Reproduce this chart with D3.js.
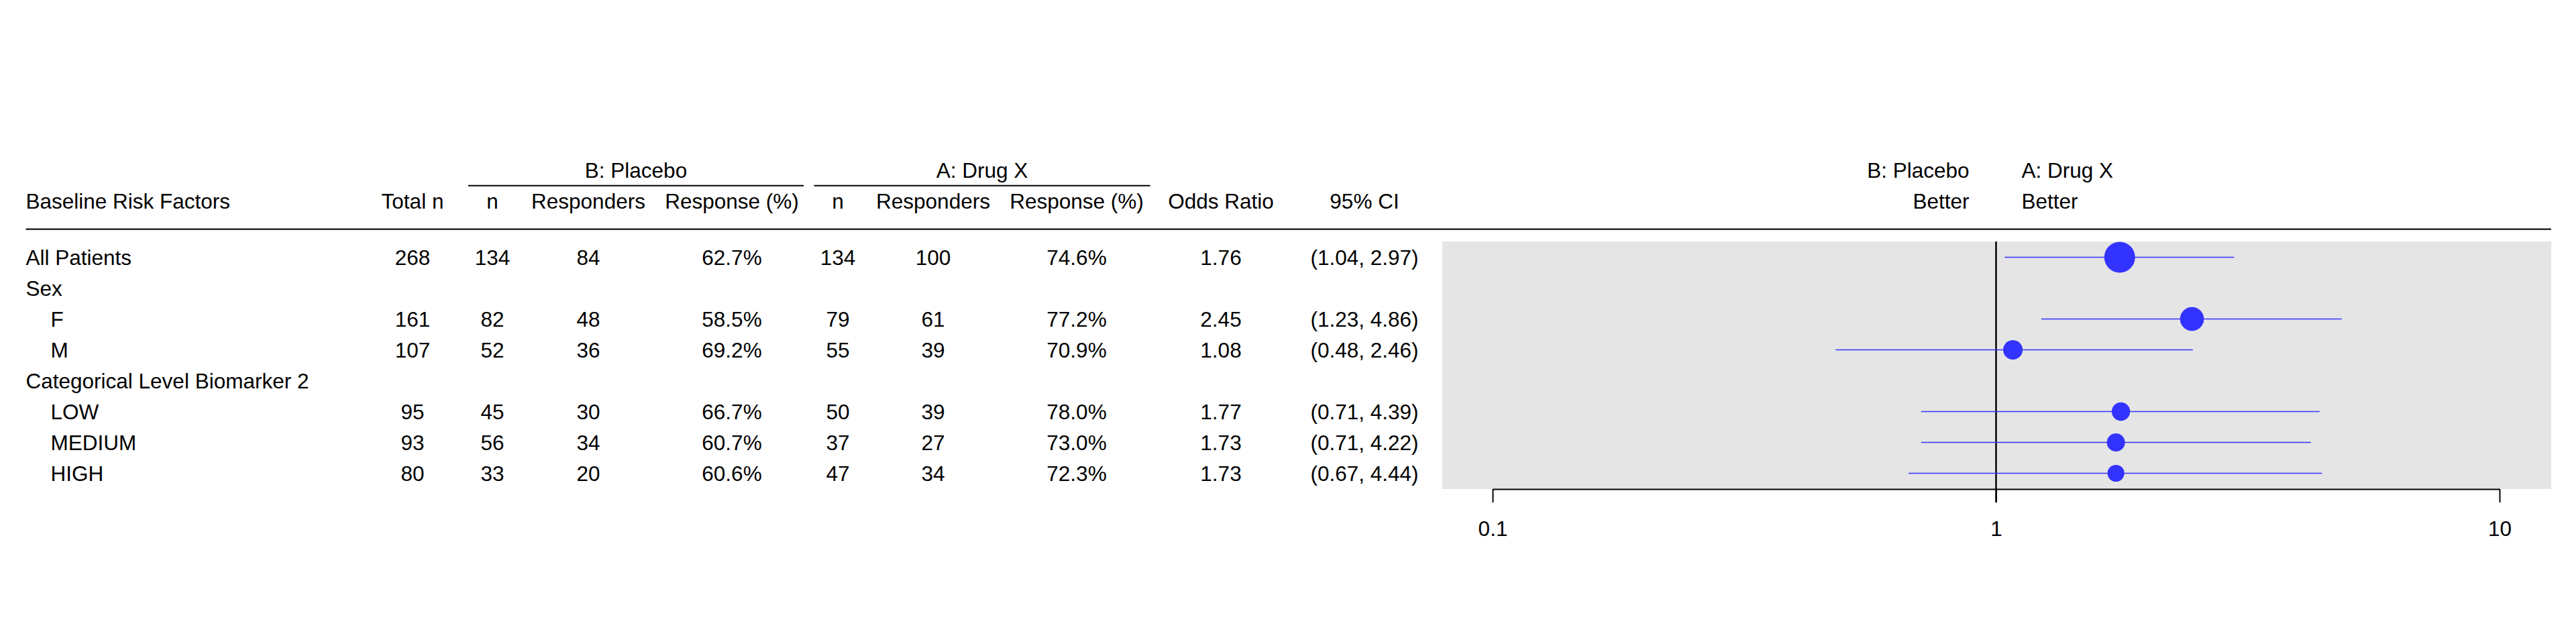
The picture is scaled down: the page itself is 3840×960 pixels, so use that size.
<!DOCTYPE html>
<html>
<head>
<meta charset="utf-8">
<script src="https://cdn.jsdelivr.net/npm/d3@7"></script>
<style>
  html, body { margin: 0; padding: 0; background: #ffffff; }
  svg text { font-family: "Liberation Sans", Arial, Helvetica, sans-serif; fill: #000; }
</style>
</head>
<body>
<svg id="chart" width="3840" height="960"></svg>
<script>
// ---------------- data ----------------
const rowLabels   = ["All Patients", "Sex", "F", "M", "Categorical Level Biomarker 2", "LOW", "MEDIUM", "HIGH"];
const rowIndent   = [0, 0, 1, 1, 0, 1, 1, 1];
const totalN      = [268, null, 161, 107, null, 95, 93, 80];
const placeboN    = [134, null, 82, 52, null, 45, 56, 33];
const placeboResp = [84, null, 48, 36, null, 30, 34, 20];
const placeboPct  = [62.7, null, 58.5, 69.2, null, 66.7, 60.7, 60.6];
const drugN       = [134, null, 79, 55, null, 50, 37, 47];
const drugResp    = [100, null, 61, 39, null, 39, 27, 34];
const drugPct     = [74.6, null, 77.2, 70.9, null, 78.0, 73.0, 72.3];
const oddsRatio   = [1.76, null, 2.45, 1.08, null, 1.77, 1.73, 1.73];
const ciLower     = [1.04, null, 1.23, 0.48, null, 0.71, 0.71, 0.67];
const ciUpper     = [2.97, null, 4.86, 2.46, null, 4.39, 4.22, 4.44];
const armLabels   = ["B: Placebo", "A: Drug X"];
const colHeaders  = ["Total n", "n", "Responders", "Response (%)", "n", "Responders", "Response (%)", "Odds Ratio", "95% CI"];
const axisTicks   = [0.1, 1, 10];

// ---------------- layout ----------------
const FS = 31.5;
const svg = d3.select("#chart");
const rowY = d3.scalePoint().domain(d3.range(rowLabels.length)).range([383.5, 705.5]);
const colX = [615, 734, 877, 1091, 1249, 1391, 1605, 1820, 2034];
const x = d3.scaleLog().domain([0.1, 10]).range([2225, 3726]);
const r = d3.scaleSqrt().domain([0, 268]).range([0, 23]);
const blue = "#3333FF";

const fmtPct = v => v.toFixed(1) + "%";
const fmt2 = v => v.toFixed(2);
const cols = [
  i => totalN[i], i => placeboN[i], i => placeboResp[i], i => placeboPct[i] == null ? null : fmtPct(placeboPct[i]),
  i => drugN[i], i => drugResp[i], i => drugPct[i] == null ? null : fmtPct(drugPct[i]),
  i => oddsRatio[i] == null ? null : fmt2(oddsRatio[i]),
  i => ciLower[i] == null ? null : "(" + fmt2(ciLower[i]) + ", " + fmt2(ciUpper[i]) + ")"
];

// forest background
svg.append("rect").attr("x", 2150).attr("y", 360).attr("width", 3803 - 2150).attr("height", 729 - 360)
  .attr("fill", "#E5E5E5");

// header
const hdr = svg.append("g").style("font-size", FS + "px");
hdr.append("text").attr("x", 38.5).attr("y", 311).text("Baseline Risk Factors");
hdr.selectAll("text.col").data(colHeaders).join("text").attr("class", "col")
  .attr("x", (d, i) => colX[i]).attr("y", 311).attr("text-anchor", "middle").text(d => d);

const spans = [[698, 1198], [1213.5, 1714.5]];
hdr.selectAll("text.arm").data(armLabels).join("text").attr("class", "arm")
  .attr("x", (d, i) => (spans[i][0] + spans[i][1]) / 2).attr("y", 265).attr("text-anchor", "middle").text(d => d);
hdr.selectAll("line.span").data(spans).join("line").attr("class", "span")
  .attr("x1", d => d[0]).attr("x2", d => d[1]).attr("y1", 276.7).attr("y2", 276.7)
  .attr("stroke", "#000").attr("stroke-width", 2);

// forest header
hdr.append("text").attr("x", x(1) - 40).attr("y", 265).attr("text-anchor", "end").text(armLabels[0]);
hdr.append("text").attr("x", x(1) - 40).attr("y", 311).attr("text-anchor", "end").text("Better");
hdr.append("text").attr("x", x(1) + 38).attr("y", 265).attr("text-anchor", "start").text(armLabels[1]);
hdr.append("text").attr("x", x(1) + 38).attr("y", 311).attr("text-anchor", "start").text("Better");

// header rule
svg.append("line").attr("x1", 38.5).attr("x2", 3803).attr("y1", 341.7).attr("y2", 341.7)
  .attr("stroke", "#111").attr("stroke-width", 2.2);

// table body
const body = svg.append("g").style("font-size", FS + "px");
body.selectAll("text.lab").data(rowLabels).join("text").attr("class", "lab")
  .attr("x", (d, i) => 38.5 + rowIndent[i] * 37).attr("y", (d, i) => rowY(i) + 11.5).text(d => d);
cols.forEach((fn, c) => {
  body.selectAll("text.c" + c).data(d3.range(rowLabels.length).filter(i => fn(i) != null)).join("text")
    .attr("class", "c" + c).attr("x", colX[c]).attr("y", i => rowY(i) + 11.5)
    .attr("text-anchor", "middle").text(i => fn(i));
});

// axis
const axis = d3.axisBottom(x).tickValues(axisTicks).tickSize(20).tickSizeOuter(0).tickPadding(28)
  .tickFormat(d => String(d));
const ag = svg.append("g").attr("transform", "translate(0,729)").call(axis);
ag.select(".domain").attr("stroke", "#000").attr("stroke-width", 2.2);
ag.selectAll(".tick line").attr("stroke", "#000").attr("stroke-width", 2);
ag.selectAll(".tick text").style("font-size", FS + "px")
  .style("font-family", '"Liberation Sans", Arial, Helvetica, sans-serif').attr("fill", "#000");

// reference line at 1
svg.append("line").attr("x1", x(1)).attr("x2", x(1)).attr("y1", 360).attr("y2", 749)
  .attr("stroke", "#000").attr("stroke-width", 2.5);

// CI lines and points
const idx = d3.range(rowLabels.length).filter(i => oddsRatio[i] != null);
const fg = svg.append("g");
fg.selectAll("line.ci").data(idx).join("line").attr("class", "ci")
  .attr("x1", i => x(ciLower[i])).attr("x2", i => x(ciUpper[i]))
  .attr("y1", i => rowY(i)).attr("y2", i => rowY(i))
  .attr("stroke", blue).attr("stroke-width", 1.6);
fg.selectAll("circle").data(idx).join("circle")
  .attr("cx", i => x(oddsRatio[i])).attr("cy", i => rowY(i)).attr("r", i => r(totalN[i]))
  .attr("fill", blue);
</script>
</body>
</html>
